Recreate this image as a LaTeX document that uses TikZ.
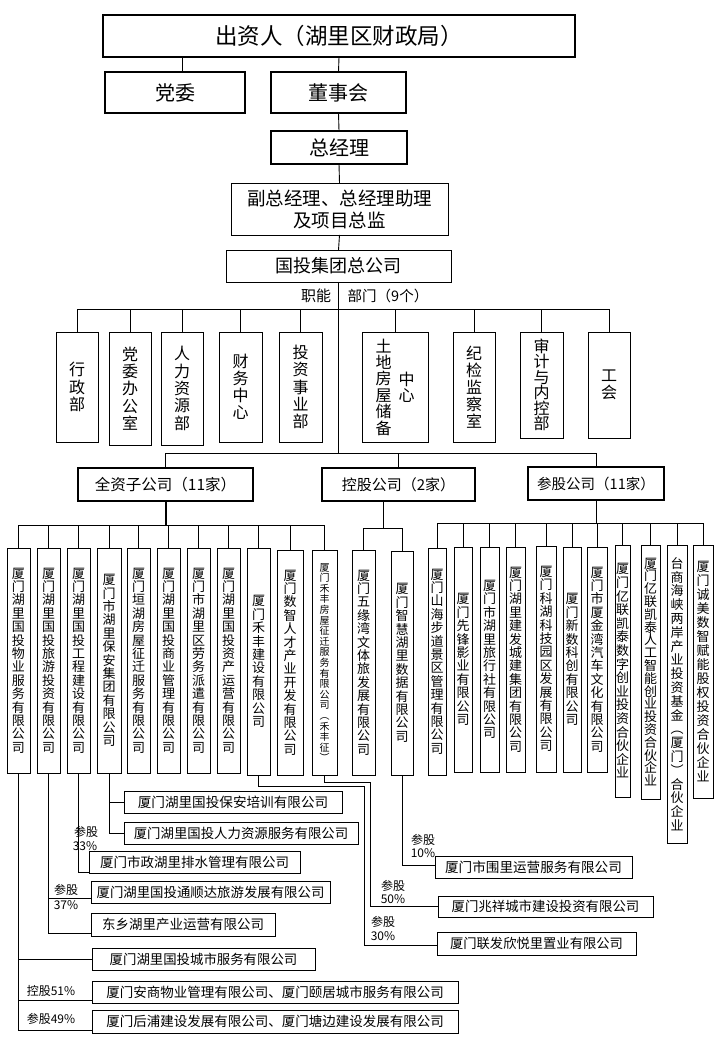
\documentclass[tikz,border=0pt]{standalone}
\usepackage{fontspec}
\setmainfont{Noto Sans CJK SC}
\makeatletter
\newcommand\vtx[3]{\vbox{\fontsize{#1}{#2}\selectfont\lineskiplimit=-100pt\lineskip=0pt\vt@aux#3\relax}}
\def\vt@aux#1{\ifx\relax#1\else\hbox to 1em{\hss#1\hss}\expandafter\vt@aux\fi}
\makeatother
\newcommand\bx[7][]{\node[box,#1,minimum width={#5pt-#3pt},minimum height={#6pt-#4pt}] (#2) at ({(#3+#5)/2},{(#4+#6)/2}) {#7};}
\tikzset{
  box/.style={draw, line width=0.9pt, inner sep=0pt, outer sep=0pt, align=center},
  tbox/.style={box, line width=2.2pt},
  ln/.style={line width=0.9pt},
  tln/.style={line width=2pt},
  fs/.style={font=\fontsize{#1}{22}\selectfont},
  lbl/.style={inner sep=0pt, font=\fontsize{12}{12}\selectfont},
}
\begin{document}
\begin{tikzpicture}[x=1pt,y=-1pt]
\fill[white] (0,0) rectangle (720,1040);
\useasboundingbox (0,0) rectangle (720,1040);
% ---------- top ----------
\bx[tbox,fs=22.5]{inv}{103}{15}{575}{57}{出资人（湖里区财政局）}
\bx[tbox,fs=20]{dw}{105}{72}{245}{113}{党委}
\bx[tbox,fs=20]{dsh}{271}{72}{406}{113}{董事会}
\bx[tbox,fs=20]{zjl}{271}{131}{407}{164}{总经理}
\bx[fs=18.5]{fz}{231}{183}{448}{235}{副总经理、总经理助理\\及项目总监}
\bx[fs=18]{gt}{226}{250}{451}{282}{国投集团总公司}
\draw[ln] ([xshift=7pt]dw.north) -- ([xshift=7pt]dw.north |- inv.south);
\draw[ln] (inv.south) -- (dsh.north);
\draw[ln] (dsh.south) -- (zjl.north);
\draw[ln] (zjl.south) -- (fz.north);
\draw[ln] (fz.south) -- (gt.north);
\coordinate (hub) at (338.5,453);
\draw[ln] (gt.south) -- (hub);
\node[inner sep=0pt,fs=15] (lzn) at (316,296) {职能};
\node[inner sep=0pt,fs=14.5] (lbm) at (388,296) {部门（9个）};
% ---------- departments ----------
\coordinate (dbar) at (0,309);
\bx{d1}{56}{332}{98}{442}{\vtx{16}{17.5}{行政部}}
\bx{d2}{109}{332}{151}{445}{\vtx{16}{17.4}{党委办公室}}
\bx{d3}{161}{332}{203}{445}{\vtx{16}{17.4}{人力资源部}}
\bx{d4}{219}{332}{262}{442}{\vtx{16}{17}{财务中心}}
\bx{d5}{279}{332}{322}{442}{\vtx{16}{17.4}{投资事业部}}
\bx{d6}{362}{332}{428}{442}{\(\vcenter{\hbox{\vtx{16}{16.4}{土地房屋储备}}}\)\hspace{7pt}\(\vcenter{\hbox{\vtx{16}{16.4}{中心}}}\)}
\bx{d7}{453}{332}{495}{442}{\vtx{16}{17}{纪检监察室}}
\bx{d8}{520}{332}{563}{438}{\vtx{16}{15.5}{审计与内控部}}
\bx{d9}{588}{332}{630}{438}{\vtx{16}{17}{工会}}
\draw[ln] (d1.north |- dbar) -- (d9.north |- dbar);
\foreach \d in {d1,d2,d3,d4,d5,d6,d7,d8,d9} \draw[ln] (\d.north) -- (\d.north |- dbar);
% ---------- groups ----------
\coordinate (gbar) at (0,453);
\bx[tbox,fs=15.5]{qz}{78}{468}{253}{501}{全资子公司（11家）}
\bx[tbox,fs=15]{kg}{322}{468}{475}{501}{控股公司（2家）}
\bx[tbox,fs=14.5]{cg}{528}{467}{664}{500}{参股公司（11家）}
\draw[ln] (qz.north |- gbar) -- (cg.north |- gbar);
\foreach \g in {qz,kg,cg} \draw[ln] (\g.north) -- (\g.north |- gbar);
% ---------- wholly owned ----------
\bx{q1}{7}{548}{30}{773}{\vtx{13}{13.4}{厦门湖里国投物业服务有限公司}}
\bx{q2}{37}{548}{60}{773}{\vtx{13}{13.4}{厦门湖里国投旅游投资有限公司}}
\bx{q3}{67}{548}{90}{773}{\vtx{13}{13.4}{厦门湖里国投工程建设有限公司}}
\bx{q4}{97}{548}{121}{773}{\vtx{13}{13.4}{厦门市湖里保安集团有限公司}}
\bx{q5}{127}{548}{150}{773}{\vtx{13}{13.4}{厦门垣湖房屋征迁服务有限公司}}
\bx{q6}{157}{548}{180}{773}{\vtx{13}{13.4}{厦门湖里国投商业管理有限公司}}
\bx{q7}{187}{548}{210}{773}{\vtx{13}{13.4}{厦门市湖里区劳务派遣有限公司}}
\bx{q8}{217}{548}{240}{773}{\vtx{13}{13.4}{厦门湖里国投资产运营有限公司}}
\bx{q9}{247}{548}{270}{775}{\vtx{13}{13.4}{厦门禾丰建设有限公司}}
\bx{q10}{277}{550}{303}{775}{\vtx{13}{13.4}{厦门数智人才产业开发有限公司}}
\bx{q11}{312}{550}{337}{775}{\vtx{10}{10.6}{厦门禾丰房屋征迁服务有限公司︵禾丰征︶}}
\coordinate (qbar) at (0,525);
\draw[tln] (qz.south) -- (qz.south |- qbar);
\draw[ln] (q1.north |- qbar) -- (q11.north |- qbar);
\foreach \q in {q1,q2,q3,q4,q5,q6,q7,q8,q9,q10,q11} \draw[ln] (\q.north) -- (\q.north |- qbar);
% ---------- holding ----------
\bx{k1}{352}{550}{375}{775}{\vtx{13}{13.4}{厦门五缘湾文体旅发展有限公司}}
\bx{k2}{391}{551}{413}{775}{\vtx{13}{13.4}{厦门智慧湖里数据有限公司}}
\coordinate (kbar) at (0,528);
\draw[ln] ([xshift=-15.5pt]kg.south) -- ([xshift=-15.5pt]kg.south |- kbar);
\draw[ln] (k1.north |- kbar) -- (k2.north |- kbar);
\foreach \k in {k1,k2} \draw[ln] (\k.north) -- (\k.north |- kbar);
% ---------- participating ----------
\bx{c1}{428}{548}{446}{775}{\vtx{13}{13.4}{厦门山海步道景区管理有限公司}}
\bx{c2}{454}{547}{472}{772}{\vtx{13}{13.4}{厦门先锋影业有限公司}}
\bx{c3}{480}{547}{499}{772}{\vtx{13}{13.4}{厦门市湖里旅行社有限公司}}
\bx{c4}{506}{547}{525}{772}{\vtx{13}{13.4}{厦门湖里建发城建集团有限公司}}
\bx{c5}{536}{546}{556}{772}{\vtx{13}{13.4}{厦门科湖科技园区发展有限公司}}
\bx{c6}{563}{547}{581}{772}{\vtx{13}{13.4}{厦门新数科创有限公司}}
\bx{c7}{587}{547}{607}{772}{\vtx{13}{13.4}{厦门市厦金湾汽车文化有限公司}}
\bx{c8}{615}{545}{630}{797}{\vtx{13}{13.6}{厦门亿联凯泰数字创业投资合伙企业}}
\bx{c9}{641}{545}{660}{799}{\vtx{13}{12.8}{厦门亿联凯泰人工智能创业投资合伙企业}}
\bx{c10}{667}{545}{687}{843}{\vtx{13}{13.8}{台商海峡两岸产业投资基金︵厦门︶合伙企业}}
\bx{c11}{693}{545}{713}{798}{\vtx{13}{14}{厦门诚美数智赋能股权投资合伙企业}}
\coordinate (cbar) at (0,523);
\draw[ln] (cg.south) -- (cg.south |- cbar);
\draw[ln] (c1.north |- cbar) -- (c11.north |- cbar);
\foreach \c in {c1,c2,c3,c4,c5,c6,c7,c8,c9,c10,c11} \draw[ln] (\c.north) -- (\c.north |- cbar);
% ---------- lower companies ----------
\bx[fs=13.6]{ba}{124}{791}{342}{813}{厦门湖里国投保安培训有限公司}
\bx[fs=13.4]{rl}{124}{822}{358}{844}{厦门湖里国投人力资源服务有限公司}
\bx[fs=13.5]{ps}{89}{851}{300}{873}{厦门市政湖里排水管理有限公司}
\bx[fs=13.4]{tsd}{91}{881}{330}{903}{厦门湖里国投通顺达旅游发展有限公司}
\bx[fs=13.5]{dx}{91}{913}{275}{936}{东乡湖里产业运营有限公司}
\bx[fs=13.4]{ws}{92}{948}{315}{970}{厦门湖里国投城市服务有限公司}
\bx[fs=13.5]{as}{92}{981}{458}{1003}{厦门安商物业管理有限公司、厦门颐居城市服务有限公司}
\bx[fs=13.5]{hp}{92}{1010}{458}{1033}{厦门后浦建设发展有限公司、厦门塘边建设发展有限公司}
\bx[fs=13.6]{wl}{435}{856}{632}{878}{厦门市围里运营服务有限公司}
\bx[fs=13.4]{zx}{438}{896}{653}{917}{厦门兆祥城市建设投资有限公司}
\bx[fs=13.3]{lf}{437}{932}{636}{955}{厦门联发欣悦里置业有限公司}
% connectors from q1
\draw[line width=1.6pt] (q1.south) -- (q1.south |- ws.west);
\draw[ln] (q1.south |- ws.west) |- ([yshift=-8.5pt]hp.west);
\draw[ln] (q1.south |- ws.west) -- (ws.west);
\draw[ln] ([yshift=-8pt]as.west -| q1.south) -- ([yshift=-8pt]as.west);
\node[lbl] (l51) at (51,991) {控股51\%};
\node[lbl] (l49) at (51,1019) {参股49\%};
% q2
\draw[ln] (q2.south) |- ([yshift=-8.5pt]dx.west);
\draw[ln] ([yshift=-6pt]tsd.west -| q2.south) -- ([yshift=-6pt]tsd.west);
\node[lbl] (l37a) at (66,890) {参股};
\node[lbl] (l37b) at (66,905) {37\%};
% q3
\draw[ln] (q3.south) |- ([yshift=-10pt]ps.west);
\node[lbl] (l33a) at (86,832) {参股};
\node[lbl] (l33b) at (85,846) {33\%};
% q4
\draw[ln] (q4.south) |- (rl.west);
\draw[ln] (q4.south |- ba.west) -- (ba.west);
% q9
\coordinate (t9) at (364,786);
\draw[ln] (q9.south) |- (t9) |- ([yshift=-1.5pt]lf.west);
\node[lbl] (l30a) at (383,922) {参股};
\node[lbl] (l30b) at (383,936) {30\%};
% q11
\coordinate (t11) at (370,782);
\draw[ln] (q11.south) |- (t11) |- (zx.west);
\node[lbl] (l50a) at (393,886) {参股};
\node[lbl] (l50b) at (393,899) {50\%};
% k2
\draw[ln] (k2.south) |- ([yshift=2pt]wl.west);
\node[lbl] (l10a) at (423,840) {参股};
\node[lbl] (l10b) at (423,853) {10\%};
\end{tikzpicture}
\end{document}
